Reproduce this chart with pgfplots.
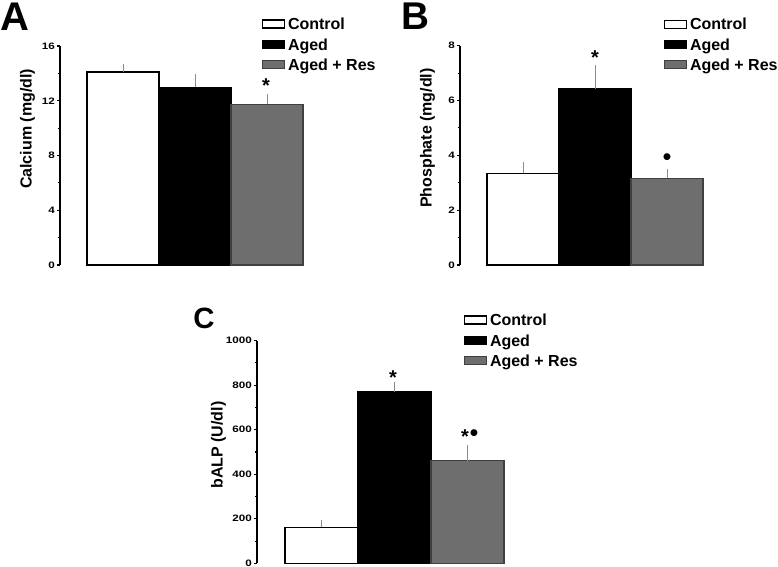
\documentclass[border=0pt]{standalone}
\usepackage{fontspec}
\setmainfont{Liberation Sans}
\usepackage{pgfplots}
\pgfplotsset{compat=1.18}
\definecolor{barGray}{RGB}{110,110,110}
\definecolor{errGray}{RGB}{140,140,140}
\tikzset{sig/.style={font=\fontsize{15}{15}\selectfont\bfseries, inner sep=0pt, anchor=center}}
\pgfplotsset{
  panel/.style={
    scale only axis, width=187.5pt, xmin=0, xmax=250, ymin=0,
    axis x line=none, axis y line=left,
    y axis line style={-, line width=0.9pt},
    tick align=outside, major tick length=2.4pt, minor tick length=1.6pt,
    every tick/.style={black, line width=0.8pt},
    minor y tick num=1,
    /pgf/number format/assume math mode=true,
    /pgf/number format/1000 sep={},
    yticklabel style={font=\fontsize{7}{8}\selectfont\bfseries, xscale=1.25, inner sep=1pt},
    ylabel style={font=\fontsize{12}{14}\selectfont\bfseries},
    clip=false,
    legend cell align=left,
    legend style={draw=none, fill=none, anchor=north west, inner sep=0pt,
      font=\fontsize{12}{14}\selectfont\bfseries, row sep=2pt, nodes={inner sep=1.5pt},
      /tikz/every odd column/.style={column sep=1pt}},
    legend image code/.code={\draw[##1] (0pt,-2.2pt) rectangle (16pt,3.8pt);},
  },
  errb/.style={error bars/.cd, y dir=plus, y explicit,
    error bar style={errGray, line width=0.6pt},
    error mark options={errGray, mark size=1.9pt, line width=0.6pt}},
  ctrl/.style={ybar, bar shift=0pt, fill=white, draw=black, line width=0.8pt},
  aged/.style={ybar, bar shift=0pt, fill=black, draw=black, line width=0.8pt},
  res/.style={ybar, bar shift=0pt, fill=barGray, draw=black!75, line width=0.8pt},
}
\begin{document}
\begin{tikzpicture}
\useasboundingbox (0pt,0pt) rectangle (583.5pt,425.25pt);
% Panel A
\begin{axis}[panel, at={(45pt,226.5pt)}, anchor=south west, height=164.25pt,
  ymax=16, ytick={0,4,8,12,16}, bar width=72,
  ylabel={Calcium (mg/dl)}, ylabel style={at={(axis description cs:-0.13,0.621)}, anchor=center},
  legend style={at={(axis description cs:0.808,1.137)}}]
\addplot[ctrl, errb] coordinates {(63,14.1) +- (0,0.4)};
\addplot[aged, errb] coordinates {(135,13.0) +- (0,0.76)};
\addplot[res, errb] coordinates {(207,11.75) +- (0,0.55)};
\legend{Control, Aged, Aged + Res}
\node[sig, yshift=-3.3pt] at (axis cs:206,13.44) {*};
\end{axis}
% Panel B
\begin{axis}[panel, at={(345pt,226.5pt)}, anchor=south west, height=164.5pt,
  ymax=8, ytick={0,2,4,6,8}, bar width=72,
  ylabel={Phosphate (mg/dl)}, ylabel style={at={(axis description cs:-0.13,0.579)}, anchor=center},
  legend style={at={(axis description cs:0.816,1.135)}}]
\addplot[ctrl, errb] coordinates {(63,3.34) +- (0,0.31)};
\addplot[aged, errb] coordinates {(135,6.42) +- (0,0.79)};
\addplot[res, errb] coordinates {(207,3.17) +- (0,0.23)};
\legend{Control, Aged, Aged + Res}
\node[sig, yshift=-3.3pt] at (axis cs:135,7.73) {*};
\node[sig, font=\fontsize{19}{19}\selectfont] at (axis cs:207,3.83) {•};
\end{axis}
% Panel C
\begin{axis}[panel, at={(192.75pt,2.775pt)}, anchor=south west, height=166.95pt,
  ymax=1000, ytick={0,200,400,600,800,1000}, bar width=73,
  ylabel={bALP (U/dl)}, ylabel style={at={(axis description cs:-0.154,0.531)}, anchor=center},
  legend style={at={(axis description cs:0.828,1.129)}}]
\addplot[ctrl, errb] coordinates {(64.5,162) +- (0,20)};
\addplot[aged, errb] coordinates {(137.5,771) +- (0,33)};
\addplot[res, errb] coordinates {(210.5,461) +- (0,60)};
\legend{Control, Aged, Aged + Res}
\node[sig, yshift=-3.3pt] at (axis cs:136,856) {*};
\node[sig, yshift=-3.3pt] at (axis cs:208,590) {*};
\node[sig, font=\fontsize{19}{19}\selectfont] at (axis cs:217,572) {•};
\end{axis}
\node[anchor=north west, inner sep=0pt, font=\fontsize{30}{30}\selectfont\bfseries] at (0pt,423.5pt) {A};
\node[anchor=north west, inner sep=0pt, font=\fontsize{29}{29}\selectfont\bfseries] at (300.75pt,423pt) {B};
\node[anchor=north west, inner sep=0pt, font=\fontsize{22}{22}\selectfont\bfseries] at (144.75pt,194.25pt) {C};
\end{tikzpicture}
\end{document}
